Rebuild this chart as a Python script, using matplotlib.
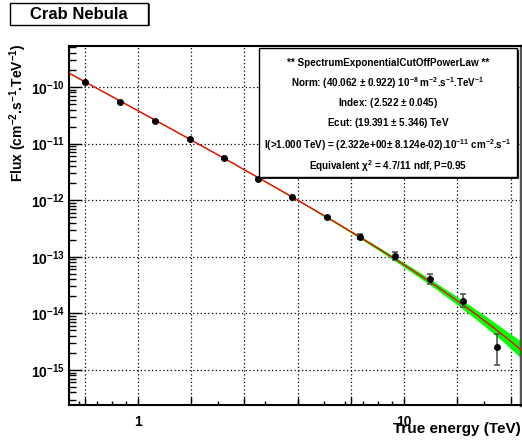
import numpy as np
import matplotlib
matplotlib.use('Agg')
import matplotlib.pyplot as plt
from matplotlib.patches import Rectangle
from matplotlib.ticker import LogLocator, NullFormatter, FixedLocator

plt.rcParams['font.family'] = ['Liberation Sans', 'DejaVu Sans']
plt.rcParams['font.weight'] = 'bold'
plt.rcParams['mathtext.fontset'] = 'custom'
plt.rcParams['mathtext.rm'] = 'Liberation Sans:bold'
plt.rcParams['mathtext.bf'] = 'Liberation Sans:bold'
plt.rcParams['mathtext.it'] = 'Liberation Sans:bold'
plt.rcParams['mathtext.default'] = 'bf'

# Flux points
energy = [0.632, 0.855, 1.158, 1.568, 2.105, 2.83, 3.79, 5.14, 6.83, 9.25, 12.5, 16.7, 22.4]
flux = [1.21e-10, 5.49e-11, 2.54e-11, 1.19e-11, 5.57e-12, 2.37e-12, 1.15e-12,
        5.1e-13, 2.26e-13, 1.03e-13, 4.06e-14, 1.68e-14, 2.55e-15]
flux_err_lo = [2.0e-12, 1.0e-12, 5.0e-13, 2.5e-13, 1.3e-13, 6.0e-14, 3.5e-14,
               1.8e-14, 2.4e-14, 1.7e-14, 7.8e-15, 3.9e-15, 1.33e-15]
flux_err_hi = [2.0e-12, 1.0e-12, 5.0e-13, 2.5e-13, 1.3e-13, 6.0e-14, 3.5e-14,
               1.8e-14, 2.6e-14, 1.95e-14, 9.9e-15, 5.4e-15, 1.78e-15]

# Fit parameters (exponential cut-off power law, ref. energy 1 TeV)
norm = 40.062e-8 * 1e-4   # m^-2 -> cm^-2
index = 2.522
ecut = 19.391

# Confidence band half-width (decades) read at a few energies
band_e = [0.55, 1.0, 2.0, 4.0, 6.0, 8.0, 10.0, 13.0, 16.0, 20.0, 24.0, 27.5]
band_hw = [0.012, 0.008, 0.008, 0.012, 0.02, 0.03, 0.04, 0.055, 0.07, 0.095, 0.12, 0.15]

xgrid = [0.631, 1.0, 1.585, 2.512, 3.981, 6.31, 10.0, 15.85, 25.12]
ydecades = [1e-15, 1e-14, 1e-13, 1e-12, 1e-11, 1e-10]

fig = plt.figure(figsize=(5.22, 4.44), dpi=100)
ax = fig.add_axes([69 / 522, 39 / 444, 452 / 522, 359 / 444])

def model(e):
    e = np.asarray(e, dtype=float)
    return norm * e ** (-index) * np.exp(-e / ecut)

be = np.array(band_e)
bf = model(be)
hw = 10 ** np.array(band_hw)
ax.fill_between(be, bf / hw, bf * hw, color='#00ff00', lw=0, zorder=2)

ef = np.geomspace(0.55, 27.5, 200)
ax.plot(ef, model(ef), color='red', lw=1.0, zorder=3)

ax.errorbar(energy, flux, yerr=[flux_err_lo, flux_err_hi], fmt='o', color='black',
            ms=4, ecolor='#555555', elinewidth=1.2, capsize=2, capthick=1.2, zorder=4)

ax.set_xscale('log')
ax.set_yscale('log')
ax.set_xlim(0.55, 27.5)
ax.set_ylim(2.4e-16, 5.3e-10)

ax.set_xticks(xgrid)
ax.set_xticklabels(['1' if v == 1.0 else '10' if v == 10.0 else '' for v in xgrid])
ax.xaxis.set_minor_locator(LogLocator(base=10, subs=np.arange(2, 10), numticks=20))
ax.xaxis.set_minor_formatter(NullFormatter())

ax.yaxis.set_major_locator(FixedLocator(ydecades))
ax.set_yticklabels([r'$10^{%d}$' % int(round(np.log10(v))) for v in ydecades])
ax.yaxis.set_minor_locator(LogLocator(base=10, subs=np.arange(2, 10), numticks=20))
ax.yaxis.set_minor_formatter(NullFormatter())

ax.tick_params(axis='x', which='major', direction='in', length=6, width=1, labelsize=10, pad=7)
ax.tick_params(axis='x', which='minor', direction='in', length=3, width=1)
ax.tick_params(axis='y', which='major', direction='in', length=9, width=1, labelsize=10, pad=3)
ax.tick_params(axis='y', which='minor', direction='in', length=5, width=1)

ax.grid(True, which='major', color='black', linestyle=(0, (1, 2)), linewidth=0.9)
for s in ['left', 'bottom', 'top']:
    ax.spines[s].set_linewidth(1.5)
ax.spines['right'].set_linewidth(2.5)
ax.spines['right'].set_color('#555555')

fig.text(18 / 522, 1 - 43 / 444, 'Flux (cm$^{-2}$.s$^{-1}$.TeV$^{-1}$)', rotation=90,
         ha='center', va='top', fontsize=10, fontweight='bold')
fig.text(521 / 522, 1 - 429 / 444, 'True energy (TeV)', ha='right', va='center',
         fontsize=11, fontweight='bold')

# title box
fig.patches.append(Rectangle((11.5 / 522, 1 - 26.5 / 444), 138 / 522, 22 / 444,
                             transform=fig.transFigure, facecolor='#444444',
                             edgecolor='none', zorder=5))
fig.patches.append(Rectangle((10 / 522, 1 - 25 / 444), 138 / 522, 22 / 444,
                             transform=fig.transFigure, facecolor='white',
                             edgecolor='black', lw=1, zorder=6))
fig.text(79 / 522, 1 - 14.5 / 444, 'Crab Nebula', ha='center', va='center',
         fontsize=12, fontweight='bold', zorder=7)

# fit result box
bx0, by0, bx1, by1 = 259, 48, 517, 177
fig.patches.append(Rectangle(((bx0 + 2) / 522, 1 - (by1 + 2) / 444), (bx1 - bx0) / 522,
                             (by1 - by0) / 444, transform=fig.transFigure,
                             facecolor='#222222', edgecolor='none', zorder=5))
fig.patches.append(Rectangle((bx0 / 522, 1 - by1 / 444), (bx1 - bx0) / 522,
                             (by1 - by0) / 444, transform=fig.transFigure,
                             facecolor='white', edgecolor='black', lw=1, zorder=6))
lines = [
    '** SpectrumExponentialCutOffPowerLaw **',
    r'Norm: (40.062 $\pm$ 0.922) 10$^{-8}$ m$^{-2}$.s$^{-1}$.TeV$^{-1}$',
    r'Index: (2.522 $\pm$ 0.045)',
    r'Ecut: (19.391 $\pm$ 5.346) TeV',
    r'I(>1.000 TeV) = (2.322e+00$\pm$ 8.124e-02).10$^{-11}$ cm$^{-2}$.s$^{-1}$',
    r'Equivalent $\chi^{2}$ = 4.7/11 ndf, P=0.95',
]
line_y = [62.7, 82.7, 102.5, 123.5, 145, 166]
for t, yy in zip(lines, line_y):
    fig.text(388 / 522, 1 - yy / 444, t, ha='center', va='center', fontsize=7.1,
             fontweight='bold', zorder=7)

fig.savefig('out.png', dpi=100, facecolor='white')
